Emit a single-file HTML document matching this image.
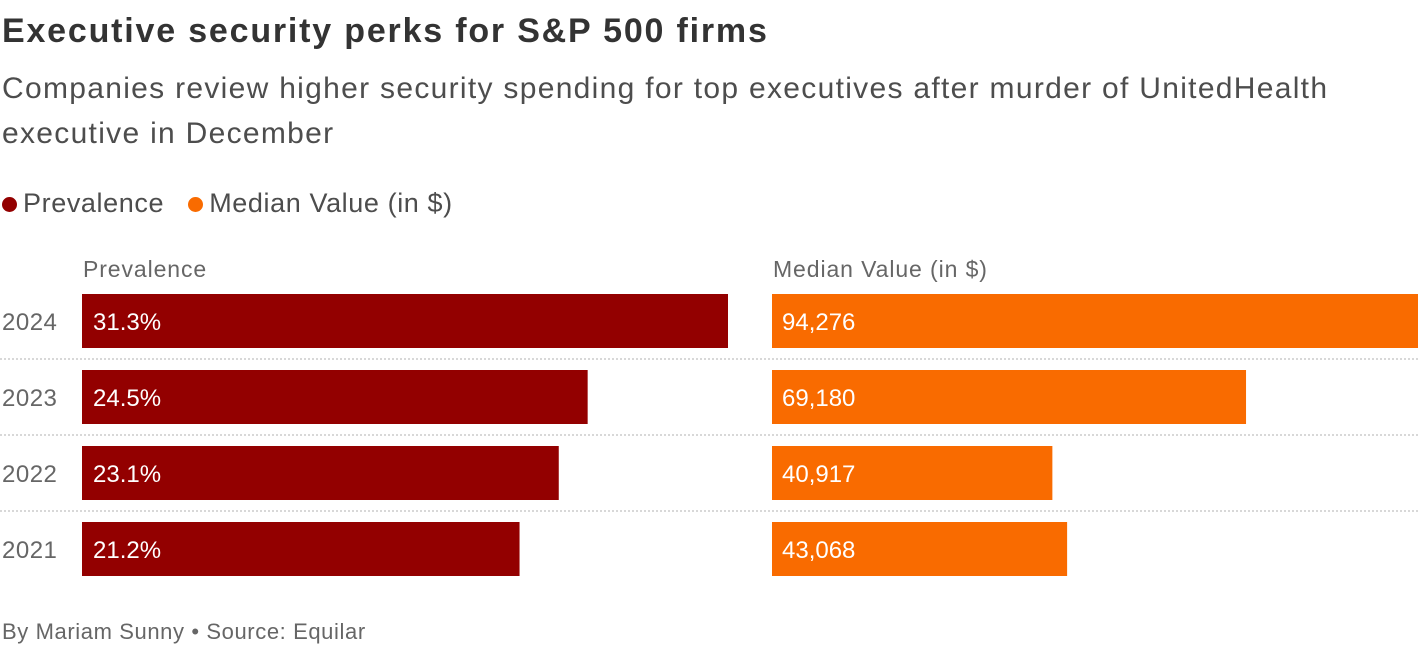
<!DOCTYPE html>
<html><head><meta charset="utf-8"><style>
body{margin:0;width:1420px;height:646px;background:#fff;font-family:"Liberation Sans",sans-serif;color:#404040;position:relative;overflow:hidden}
.t{position:absolute;white-space:nowrap}
</style></head><body>
<div class="t" style="left:2px;top:12px;font-size:34px;font-weight:bold;color:#333;letter-spacing:1.8px">Executive security perks for S&amp;P 500 firms</div>
<div class="t" style="left:2px;top:66px;font-size:30px;line-height:45px;color:#4d4d4d;letter-spacing:1.3px">Companies review higher security spending for top executives after murder of UnitedHealth<br>executive in December</div>
<div class="t" style="left:2px;top:188px;font-size:27px;color:#4d4d4d;letter-spacing:0.6px">
<span><span style="display:inline-block;width:15px;height:15px;border-radius:50%;background:#930000;margin-right:6px"></span>Prevalence</span>
<span style="margin-left:16px"><span style="display:inline-block;width:15px;height:15px;border-radius:50%;background:#f96b00;margin-right:6px"></span>Median Value (in $)</span></div>
<div class="t" style="left:83px;top:256px;font-size:23px;color:#666;letter-spacing:0.9px">Prevalence</div>
<div class="t" style="left:773px;top:256px;font-size:23px;color:#666;letter-spacing:0.9px">Median Value (in $)</div>
<svg id="c" width="1420" height="646" style="position:absolute;left:0;top:0"></svg>
<div class="t" style="left:2px;top:619px;font-size:22px;color:#666;letter-spacing:0.6px">By Mariam Sunny • Source: Equilar</div>
<script>
const years=["2024","2023","2022","2021"];
const prevalence=[31.3,24.5,23.1,21.2];
const prevLabels=["31.3%","24.5%","23.1%","21.2%"];
const median=[94276,69180,40917,43068];
const medianLabels=["94,276","69,180","40,917","43,068"];
const svg=document.getElementById('c');
const NS="http://www.w3.org/2000/svg";
const xP=v=>v/31.3*646, xM=v=>v/94276*646;
const yB=i=>294+i*76;
function mk(t,a){const e=document.createElementNS(NS,t);for(const k in a)e.setAttribute(k,a[k]);svg.appendChild(e);return e;}
years.forEach((y,i)=>{
 const top=yB(i);
 if(i>0){const l=mk('line',{x1:0,x2:1418,y1:top-11,y2:top-11,stroke:'#ccc','stroke-width':1.5,'stroke-dasharray':'2,2'});
 }
 const yl=mk('text',{x:2,y:top+36,'font-size':24,fill:'#666','letter-spacing':'0.5'});yl.textContent=y;
 
 const b1=mk('rect',{x:82,y:top,width:xP(prevalence[i]),height:54,fill:'#930000'});
 
 const t1=mk('text',{x:93,y:top+36,'font-size':24,fill:'#fff'});t1.textContent=prevLabels[i];
 
 const b2=mk('rect',{x:772,y:top,width:xM(median[i]),height:54,fill:'#f96b00'});
 
 const t2=mk('text',{x:782,y:top+36,'font-size':24,fill:'#fff'});t2.textContent=medianLabels[i];
 
});
</script>
</body></html>
